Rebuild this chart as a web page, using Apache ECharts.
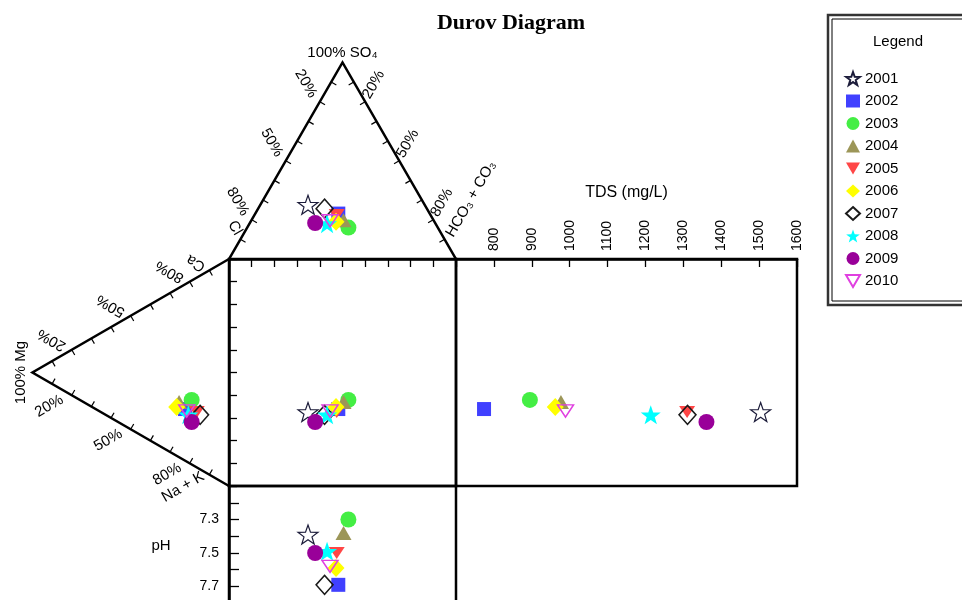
<!DOCTYPE html>
<html><head><meta charset="utf-8">
<script src="https://cdn.jsdelivr.net/npm/echarts@6/dist/echarts.min.js"></script>
<style>html,body{margin:0;padding:0;background:#fff}#c{width:962px;height:600px}</style>
</head><body><div id="c"></div>
<script>
// ---------------- data ----------------
const years   = ['2001','2002','2003','2004','2005','2006','2007','2008','2009','2010'];
// anions (% meq) - top triangle
const clPct   = [51.4, 40.3, 39.4, 39.7, 41.4, 43.4, 45.1, 47.8, 52.9, 45.8];
const so4Pct  = [27.6, 23.1, 16.0, 19.7, 22.3, 18.9, 25.6, 18.0, 18.3, 19.4];
const hco3Pct = [21.0, 36.6, 44.6, 40.6, 36.3, 37.7, 29.3, 34.2, 28.8, 34.8];
// cations (% meq) - left triangle
const caPct   = [22.7, 22.7, 28.4, 24.3, 24.4, 21.5, 24.0, 21.0, 18.7, 22.3];
const mgPct   = [19.8, 22.4, 19.0, 25.4, 16.4, 26.6, 14.7, 20.7, 19.0, 21.5];
const naKPct  = [57.5, 54.9, 52.6, 50.3, 59.2, 51.9, 61.3, 58.3, 62.3, 56.2];
// TDS (mg/L) and pH
const tds     = [1504, 774, 895, 977, 1310, 962, 1311, 1214, 1361, 989];
const ph      = [7.39, 7.69, 7.30, 7.38, 7.50, 7.59, 7.69, 7.49, 7.50, 7.58];
// tick labels
const tdsTickLabels  = ['800','900','1000','1100','1200','1300','1400','1500','1600'];
const phTickLabels   = ['7.3','7.5','7.7'];
const sideTickLabels = ['20%','50%','80%'];

// ---------------- layout / styles ----------------
const R3 = Math.sqrt(3) / 2;
const SQ = 227, X0 = 229, Y0 = 259, H = SQ * R3;
const FONT = '"Liberation Sans", Arial, "DejaVu Sans", sans-serif';

function starPath(rIn) {
  let d = '';
  for (let k = 0; k < 10; k++) {
    const r = k % 2 ? rIn : 10;
    const a = -Math.PI / 2 + k * Math.PI / 5;
    d += (k ? 'L' : 'M') + (r * Math.cos(a)).toFixed(2) + ',' + (r * Math.sin(a)).toFixed(2);
  }
  return 'path://' + d + 'Z';
}
const STAR = starPath(4);
const INV_TRI = 'path://M0,0L20,0L10,17.32Z';
const NONE = 'rgba(255,255,255,0)';
const markerStyles = [
  { symbol: STAR, size: 20, color: NONE, border: '#1c1c3a', bw: 1.2 },
  { symbol: 'rect', size: 14, color: '#4040ff' },
  { symbol: 'circle', size: 16, color: '#44ee44' },
  { symbol: 'triangle', size: [16, 14], color: '#9c9658' },
  { symbol: INV_TRI, size: [16, 14], color: '#ff4646' },
  { symbol: 'diamond', size: [17, 18], color: '#ffff00' },
  { symbol: 'diamond', size: [17, 19], color: NONE, border: '#1a1a1a', bw: 1.5 },
  { symbol: STAR, size: 20, color: '#00ffff' },
  { symbol: 'circle', size: 16, color: '#990099' },
  { symbol: INV_TRI, size: [16, 14], color: NONE, border: '#e040e0', bw: 1.5 }
];

// ---------------- frame drawing (triangles) ----------------
function frameRender(params, api) {
  const P = (x, y) => api.coord([x, y]);
  const apex = P(50, 100 + 100 * R3), clV = P(0, 100), hV = P(100, 100);
  const mgV = P(-100 * R3, 50), caV = P(0, 100), naV = P(0, 0);
  const ch = [];
  const ls = { stroke: '#000', lineWidth: 2.5, fill: null };
  ch.push({ type: 'polyline', shape: { points: [clV, apex, hV] }, style: ls });
  ch.push({ type: 'polyline', shape: { points: [caV, mgV, naV] }, style: ls });
  function ticks(A, B, C) {
    const dx = B[0] - A[0], dy = B[1] - A[1], L = Math.hypot(dx, dy);
    let nx = -dy / L, ny = dx / L;
    const mx = (A[0] + B[0]) / 2, my = (A[1] + B[1]) / 2;
    if ((C[0] - mx) * nx + (C[1] - my) * ny < 0) { nx = -nx; ny = -ny; }
    for (let k = 1; k < 10; k++) {
      const px = A[0] + dx * k / 10, py = A[1] + dy * k / 10;
      ch.push({ type: 'line', shape: { x1: px, y1: py, x2: px + nx * 6, y2: py + ny * 6 },
        style: { stroke: '#000', lineWidth: 1.2 } });
    }
  }
  const cTop = [(apex[0] + clV[0] + hV[0]) / 3, (apex[1] + clV[1] + hV[1]) / 3];
  const cLeft = [(mgV[0] + caV[0] + naV[0]) / 3, (mgV[1] + caV[1] + naV[1]) / 3];
  ticks(apex, clV, cTop); ticks(apex, hV, cTop);
  ticks(mgV, caV, cLeft); ticks(mgV, naV, cLeft);
  function txt(text, x, y, rot, size) {
    ch.push({ type: 'text', x: x, y: y, rotation: rot,
      style: { text: text, fill: '#000', font: (size || 15) + 'px ' + FONT, align: 'center', verticalAlign: 'middle' } });
  }
  function sideLabels(A, B, off, rot) {
    sideTickLabels.forEach(s => {
      const t = parseFloat(s) / 100;
      txt(s, A[0] + (B[0] - A[0]) * t + off[0], A[1] + (B[1] - A[1]) * t + off[1], rot);
    });
  }
  sideLabels(apex, clV, [-14, -18], -Math.PI / 3);
  sideLabels(apex, hV, [8.5, -17], Math.PI / 3);
  sideLabels(mgV, caV, [-20, -10], 5 * Math.PI / 6);
  sideLabels(mgV, naV, [-22.5, 11], Math.PI / 6);
  txt('100% SO\u2084', apex[0], apex[1] - 10, 0);
  txt('Cl', clV[0] + 6, clV[1] - 31, -Math.PI / 3);
  txt('HCO\u2083 + CO\u2083', hV[0] + 15, hV[1] - 60, Math.PI / 3);
  txt('100% Mg', mgV[0] - 12, mgV[1], Math.PI / 2);
  txt('Ca', caV[0] - 33, caV[1] + 4, 5 * Math.PI / 6);
  txt('Na + K', naV[0] - 46, naV[1] + 1, Math.PI / 6);
  txt('pH', naV[0] - 68, naV[1] + 60, 0);
  return { type: 'group', children: ch };
}

// ---------------- series ----------------
const series = [{
  type: 'custom', xAxisIndex: 0, yAxisIndex: 0, data: [[0, 0]], clip: false, silent: true, z: 1,
  renderItem: frameRender
}];
years.forEach((y, i) => {
  const aSum = clPct[i] + so4Pct[i] + hco3Pct[i];
  const cSum = caPct[i] + mgPct[i] + naKPct[i];
  const so4 = so4Pct[i] / aSum * 100, hco3 = hco3Pct[i] / aSum * 100;
  const ca = caPct[i] / cSum * 100, mg = mgPct[i] / cSum * 100;
  const sx = hco3 + so4 / 2, sy = ca + mg / 2;
  const st = markerStyles[i];
  const base = {
    type: 'scatter', name: y, symbol: st.symbol, symbolSize: st.size, symbolKeepAspect: true,
    itemStyle: { color: st.color, borderColor: st.border || st.color, borderWidth: st.bw || 0, opacity: 1 },
    emphasis: { disabled: true }, z: 3, clip: false
  };
  series.push(Object.assign({}, base, { xAxisIndex: 0, yAxisIndex: 0, data: [[sx, 100 + so4 * R3]] }));
  series.push(Object.assign({}, base, { xAxisIndex: 0, yAxisIndex: 0, data: [[-mg * R3, sy]] }));
  series.push(Object.assign({}, base, { xAxisIndex: 1, yAxisIndex: 1, data: [[sx, sy]] }));
  series.push(Object.assign({}, base, { xAxisIndex: 2, yAxisIndex: 2, data: [[tds[i], sy]] }));
  series.push(Object.assign({}, base, { xAxisIndex: 3, yAxisIndex: 3, data: [[sx, ph[i]]] }));
});

const boxGrid = { show: true, borderColor: '#000', borderWidth: 2.5, backgroundColor: 'transparent' };
const plainGrid = { containLabel: false, outerBoundsMode: 'none' };
const tickStyle = { color: '#000', width: 1.3 };
const lineOn = { show: true, onZero: false, lineStyle: { color: '#000', width: 2.5 } };
const chart = echarts.init(document.getElementById('c'), null, { renderer: 'canvas' });
chart.setOption({
  animation: false,
  backgroundColor: '#fff',
  grid: [
    Object.assign({ left: X0 - H, top: Y0 - H, width: SQ + H, height: SQ + H }, plainGrid),
    Object.assign({ left: X0, top: Y0, width: SQ, height: SQ }, boxGrid, plainGrid),
    Object.assign({ left: X0 + SQ, top: Y0, width: 341, height: SQ }, boxGrid, plainGrid),
    Object.assign({ left: X0, top: Y0 + SQ, width: SQ, height: 134 }, boxGrid, plainGrid)
  ],
  xAxis: [
    { gridIndex: 0, type: 'value', min: -100 * R3, max: 100, show: false },
    { gridIndex: 1, type: 'value', min: 0, max: 100, interval: 10, position: 'top',
      axisLine: lineOn,
      axisTick: { show: true, inside: true, length: 8, lineStyle: tickStyle },
      axisLabel: { show: false }, splitLine: { show: false } },
    { gridIndex: 2, type: 'value', min: 700, max: 1600, interval: 100, position: 'top',
      name: 'TDS (mg/L)', nameLocation: 'middle', nameGap: 58,
      nameTextStyle: { fontFamily: FONT, fontSize: 16, color: '#000' },
      axisLine: lineOn,
      axisTick: { show: true, inside: true, length: 8, lineStyle: tickStyle },
      axisLabel: { rotate: -90, margin: 8, fontFamily: FONT, fontSize: 14, color: '#000', showMinLabel: false,
        formatter: v => tdsTickLabels.indexOf(String(Math.round(v))) >= 0 ? String(Math.round(v)) : '' },
      splitLine: { show: false } },
    { gridIndex: 3, type: 'value', min: 0, max: 100, show: false }
  ],
  yAxis: [
    { gridIndex: 0, type: 'value', min: 0, max: 100 + 100 * R3, show: false },
    { gridIndex: 1, type: 'value', min: 0, max: 100, interval: 10,
      axisLine: lineOn,
      axisTick: { show: true, inside: true, length: 8, lineStyle: tickStyle },
      axisLabel: { show: false }, splitLine: { show: false } },
    { gridIndex: 2, type: 'value', min: 0, max: 100, show: false },
    { gridIndex: 3, type: 'value', min: 7.1, max: 7.9, interval: 0.1, inverse: true,
      axisLine: lineOn,
      axisTick: { show: true, inside: true, length: 10, lineStyle: tickStyle },
      axisLabel: { margin: 10, fontFamily: FONT, fontSize: 14, color: '#000', showMinLabel: false, showMaxLabel: false,
        formatter: v => phTickLabels.indexOf(v.toFixed(1)) >= 0 ? v.toFixed(1) : '' },
      splitLine: { show: false } }
  ],
  legend: {
    data: years, orient: 'vertical', left: 840, top: 66, itemWidth: 14, itemHeight: 13, itemGap: 7.5,
    selectedMode: false,
    textStyle: { fontFamily: FONT, fontSize: 15, color: '#000' }
  },
  graphic: [
    { type: 'text', x: 511, y: 23, style: { text: 'Durov Diagram', font: 'bold 22px "Liberation Serif", "Times New Roman", serif', fill: '#000', align: 'center', verticalAlign: 'middle' } },
    { type: 'rect', shape: { x: 828, y: 15, width: 200, height: 290 }, style: { fill: null, stroke: '#333', lineWidth: 2.5 } },
    { type: 'rect', shape: { x: 832, y: 19, width: 200, height: 282 }, style: { fill: null, stroke: '#000', lineWidth: 1 } },
    { type: 'text', x: 898, y: 42, style: { text: 'Legend', font: '15px ' + FONT, fill: '#000', align: 'center', verticalAlign: 'middle' } }
  ],
  series: series
});
</script></body></html>
